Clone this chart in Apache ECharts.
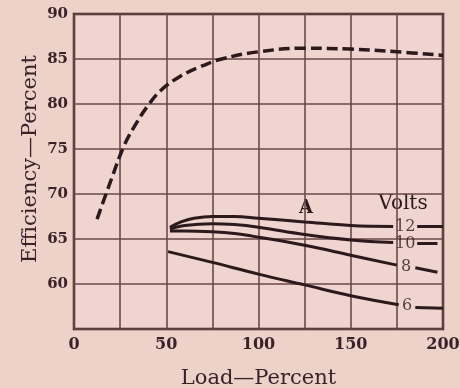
<!DOCTYPE html>
<html>
<head>
<meta charset="utf-8">
<script src="https://cdn.jsdelivr.net/npm/echarts@6/dist/echarts.min.js"></script>
<style>
  html, body { margin: 0; padding: 0; background: #ecd2c9; }
  #chart { width: 460px; height: 388px; }
</style>
</head>
<body>
<div id="chart"></div>
<script>
// Axis ranges and tick labels
var xTicks = [0, 50, 100, 150, 200];
var yTicks = [60, 65, 70, 75, 80, 85, 90];

// Overall efficiency (dashed curve): [load %, efficiency %]
var efficiency = [
  [12.5, 67.2], [20, 71.5], [27, 75.3], [33, 77.6], [40, 79.8], [47, 81.5],
  [57, 83.0], [68, 84.1], [80, 85.0], [100, 85.8], [125, 86.2], [150, 86.1],
  [175, 85.8], [200, 85.4]
];

// Curves at constant voltage; null marks the break where the voltage label sits
var volts12 = [
  [52, 66.3], [58, 66.9], [65, 67.3], [75, 67.5], [87, 67.5], [100, 67.3],
  [125, 66.9], [150, 66.5], [173, 66.4], null, [186, 66.4], [200, 66.4]
];
var volts10 = [
  [52, 66.1], [60, 66.5], [75, 66.7], [87, 66.6], [100, 66.3], [125, 65.5],
  [150, 64.9], [173, 64.6], null, [186, 64.5], [197, 64.5]
];
var volts8 = [
  [52, 65.9], [60, 65.9], [75, 65.8], [87, 65.6], [100, 65.2], [125, 64.3],
  [150, 63.2], [175, 62.1], null, [185, 61.8], [197, 61.3]
];
var volts6 = [
  [51, 63.6], [75, 62.4], [100, 61.1], [125, 59.9], [150, 58.7], [176, 57.7],
  null, [185, 57.4], [200, 57.3]
];

// Voltage tags written on the curves
var voltLabels = ['12', '10', '8', '6'];
var voltLabelPos = [[179.5, 66.4], [179.5, 64.5], [180, 61.9], [180.5, 57.6]];

var ink = '#2b191b';
var textInk = '#3b2229';

function toSeriesData(points) {
  return points.map(function (p) { return p === null ? ['-', '-'] : p; });
}

function solidCurve(points) {
  return {
    type: 'line',
    data: toSeriesData(points),
    smooth: 0.4,
    connectNulls: false,
    symbol: 'none',
    lineStyle: { color: ink, width: 3 },
    z: 5
  };
}

var chart = echarts.init(document.getElementById('chart'), null, { renderer: 'canvas' });

chart.setOption({
  backgroundColor: '#ecd2c9',
  animation: false,
  grid: {
    left: 74, top: 14, right: 17, bottom: 59,
    containLabel: false,
    outerBoundsMode: 'none',
    show: true,
    backgroundColor: '#efd4cf',
    borderColor: '#3a2326',
    borderWidth: 2.5
  },
  xAxis: {
    type: 'value',
    min: 0, max: 200, interval: 25,
    name: 'Load\u2014Percent',
    nameLocation: 'middle',
    nameGap: 39,
    nameTextStyle: { fontFamily: 'DejaVu Serif', fontSize: 21, color: textInk },
    axisLine: { show: false },
    axisTick: { show: false },
    axisLabel: {
      margin: 8,
      fontFamily: 'DejaVu Serif', fontWeight: 'bold', fontSize: 16, color: textInk,
      formatter: function (v) { return xTicks.indexOf(v) >= 0 ? String(v) : ''; }
    },
    splitLine: { show: true, lineStyle: { color: '#6b4a48', width: 1.6 } }
  },
  yAxis: {
    type: 'value',
    min: 55, max: 90, interval: 5,
    axisLine: { show: false },
    axisTick: { show: false },
    axisLabel: {
      margin: 6,
      fontFamily: 'DejaVu Serif', fontWeight: 'bold', fontSize: 15, color: textInk,
      formatter: function (v) { return yTicks.indexOf(v) >= 0 ? String(v) : ''; }
    },
    splitLine: { show: true, lineStyle: { color: '#6b4a48', width: 1.6 } }
  },
  series: [
    {
      type: 'line',
      data: efficiency,
      smooth: 0.4,
      symbol: 'none',
      lineStyle: { color: ink, width: 3.5, type: [11, 5] },
      z: 5
    },
    solidCurve(volts12),
    solidCurve(volts10),
    solidCurve(volts8),
    solidCurve(volts6),
    {
      type: 'scatter',
      symbolSize: 0,
      data: voltLabels.map(function (t, i) { return { name: t, value: voltLabelPos[i] }; }),
      label: {
        show: true,
        position: 'inside',
        formatter: '{b}',
        fontFamily: 'DejaVu Serif', fontSize: 16, color: ink
      },
      z: 6
    }
  ],
  graphic: [
    {
      type: 'text',
      x: 31, y: 159,
      rotation: Math.PI / 2,
      style: {
        text: 'Efficiency\u2014Percent',
        font: '21px "DejaVu Serif"',
        fill: textInk,
        align: 'center',
        verticalAlign: 'middle'
      }
    },
    {
      type: 'text',
      x: 306, y: 208,
      style: { text: 'A', font: 'bold 18px "DejaVu Serif"', fill: ink, align: 'center', verticalAlign: 'middle' }
    },
    {
      type: 'text',
      x: 403, y: 204,
      style: { text: 'Volts', font: '20px "DejaVu Serif"', fill: ink, align: 'center', verticalAlign: 'middle' }
    }
  ]
});
</script>
</body>
</html>
